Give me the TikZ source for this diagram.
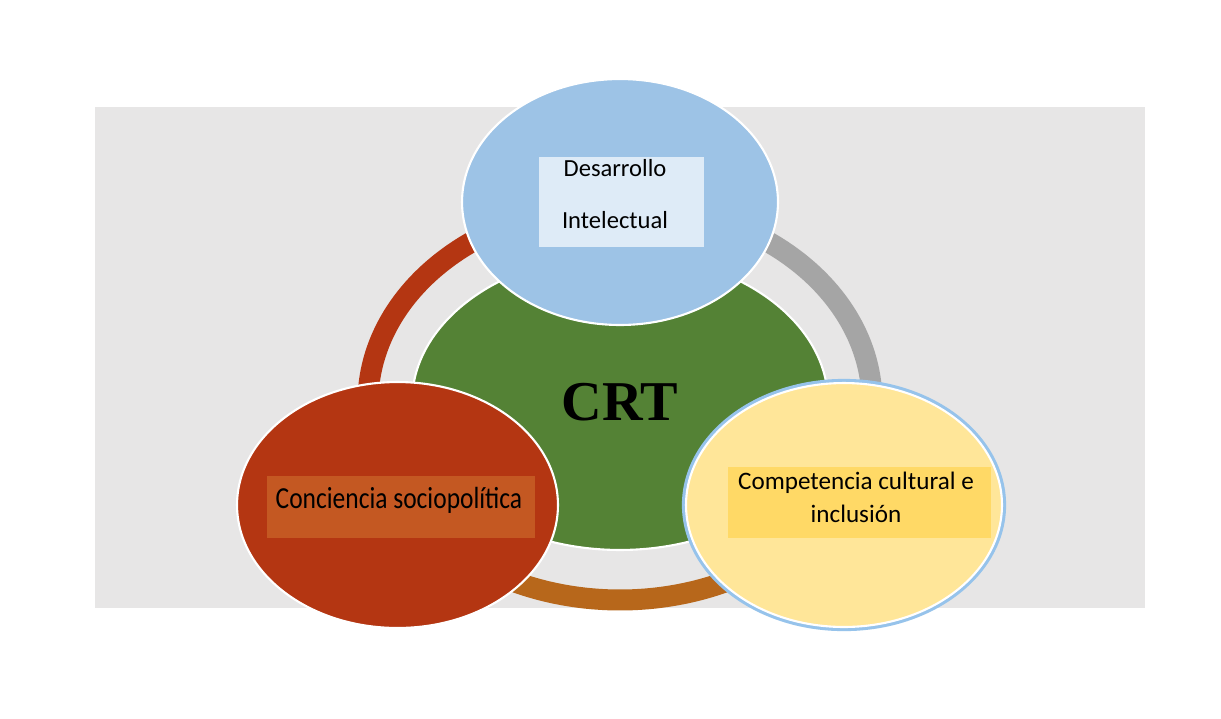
\documentclass[tikz,border=0pt]{standalone}
\usepackage{fontspec}
\setmainfont{Carlito}
\newfontfamily\crtfont{Liberation Serif}
\usepackage{tikz}
\usetikzlibrary{shapes.geometric,positioning}
\definecolor{bggrey}{HTML}{E7E6E6}
\definecolor{myblue}{HTML}{9DC3E6}
\definecolor{myboxblue}{HTML}{DEEBF7}
\definecolor{mygreen}{HTML}{548235}
\definecolor{myred}{RGB}{180,54,18}
\definecolor{myboxred}{RGB}{196,88,34}
\definecolor{myyellow}{HTML}{FFE699}
\definecolor{myboxyellow}{HTML}{FFD966}
\definecolor{myglow}{RGB}{150,195,235}
\definecolor{ringgrey}{HTML}{A5A5A5}
\definecolor{ringbrown}{RGB}{183,103,27}

\begin{document}
\begin{tikzpicture}[x=0.02cm, y=-0.02cm,
    blob/.style={ellipse, draw=white, line width=1.2pt, inner sep=0pt},
    ring/.style={line width=0.42cm},
    textbox/.style={rectangle, inner sep=0pt},
    boxtext/.style={inner sep=0pt, align=center, font=\fontsize{14.3}{18.7}\selectfont}]
    \fill[white] (0,0) rectangle (1221,718);
    \useasboundingbox (0,0) rectangle (1221,718);
    \fill[bggrey] (95,107) rectangle (1145,608);

    \draw[ring, myred] plot[domain=110:200, samples=60] ({620+252*cos(\x)},{402-198*sin(\x)});
    \draw[ring, ringgrey] plot[domain=-20:70, samples=60] ({620+252*cos(\x)},{402-198*sin(\x)});
    \draw[ring, ringbrown] plot[domain=200:340, samples=80] ({620+252*cos(\x)},{402-198*sin(\x)});

    \node[blob, fill=mygreen, minimum width=8.32cm, minimum height=5.92cm] (crt) at (620,402)
        {\crtfont\bfseries\fontsize{32}{32}\selectfont CRT};

    \node[blob, fill=myblue, minimum width=6.32cm, minimum height=4.92cm] (des) at (620,202) {};
    \node[textbox, fill=myboxblue, minimum width=3.3cm, minimum height=1.8cm] (desbox) at (621.5,202) {};
    \node[boxtext, font=\fontsize{14}{29.5}\selectfont] (destext) at (615,194) {Desarrollo\\Intelectual};

    \node[blob, fill=myred, minimum width=6.42cm, minimum height=4.92cm] (soc) at (397.5,505) {};
    \node[textbox, fill=myboxred, minimum width=5.36cm, minimum height=1.24cm] (socbox) at (401,507) {};
    \node[boxtext, font=\fontsize{14.5}{18}\selectfont, anchor=base] (soctext) at (399,508)
        {\scalebox{1}[1.2]{Conciencia sociopolítica}};

    \node[ellipse, draw=myglow, line width=3pt, inner sep=0pt, minimum width=6.38cm, minimum height=4.94cm] (culglow) at (844,505) {};
    \node[blob, fill=myyellow, minimum width=6.32cm, minimum height=4.88cm] (cul) at (844,505) {};
    \node[textbox, fill=myboxyellow, minimum width=5.26cm, minimum height=1.42cm] (culbox) at (859.5,502.5) {};
    \node[boxtext] (cultext) at (856,497) {Competencia cultural e\\inclusión};
\end{tikzpicture}
\end{document}
